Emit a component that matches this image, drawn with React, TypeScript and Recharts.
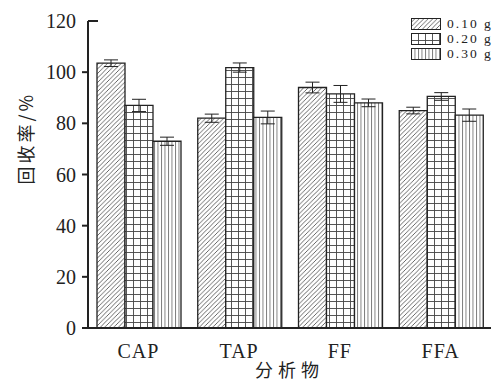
import { BarChart, Bar, XAxis, YAxis, ErrorBar, Label } from 'recharts';

const analytes = ['CAP', 'TAP', 'FF', 'FFA'];
const masses = ['0.10 g', '0.20 g', '0.30 g'];
const recovery010 = [103.5, 82, 94, 85];
const recovery020 = [87, 101.8, 91.5, 90.5];
const recovery030 = [73, 82.3, 88, 83.2];
const err010 = [1.3, 1.6, 2.1, 1.3];
const err020 = [2.4, 1.8, 3.3, 1.5];
const err030 = [1.6, 2.5, 1.5, 2.4];
const yTicks = [0, 20, 40, 60, 80, 100, 120];

const patternIds = ['hatchDiag', 'hatchGrid', 'hatchVert'];

const data = analytes.map((name, i) => ({
  name,
  s1: recovery010[i],
  s2: recovery020[i],
  s3: recovery030[i],
  e1: err010[i],
  e2: err020[i],
  e3: err030[i],
}));

const serif = '"Liberation Serif", "DejaVu Serif", serif';
const cjk = '"Noto Sans CJK SC", sans-serif';

function YTick(props: any) {
  const { x, y, payload } = props;
  const axisX = x + 9;
  return (
    <g>
      {payload.value === 120 ? (
        <line x1={axisX} x2={axisX + 10} y1={y} y2={y} stroke="#222" strokeWidth={2} />
      ) : (
        <line x1={axisX - 6} x2={axisX} y1={y} y2={y} stroke="#222" strokeWidth={2} />
      )}
      <text x={x - 3} y={y} dy={7} textAnchor="end" fontFamily={serif} fontSize={20} fill="#222">
        {payload.value}
      </text>
    </g>
  );
}

function RightEnd(props: any) {
  const { x, y, payload } = props;
  if (payload.value !== 0) return null;
  return <line x1={x - 1} x2={x - 1} y1={y + 1} y2={y - 13} stroke="#222" strokeWidth={2} />;
}

function LegendBox() {
  return (
    <div
      style={{
        position: 'absolute',
        left: 411,
        top: 16,
        fontFamily: serif,
        fontSize: 13.5,
        color: '#222',
      }}
    >
      {masses.map((m, i) => (
        <div key={m} style={{ display: 'flex', alignItems: 'center', height: 15, whiteSpace: 'nowrap' }}>
          <svg width={30} height={12} style={{ marginRight: 6, display: 'block' }}>
            <rect x={0.5} y={0.5} width={29} height={11} fill={`url(#${patternIds[i]})`} stroke="#222" strokeWidth={1} />
          </svg>
          <span style={{ lineHeight: '15px', letterSpacing: 2 }}>{m}</span>
        </div>
      ))}
    </div>
  );
}

export default function App() {
  return (
    <div style={{ position: 'absolute', left: 0, top: 0, width: 500, height: 390, overflow: 'hidden', background: '#fff' }}>
      <BarChart
        width={500}
        height={390}
        data={data}
        margin={{ top: 21, right: 9, bottom: 32, left: 40 }}
        barCategoryGap={9}
        barGap={0}
      >
        <defs>
          <pattern id="hatchDiag" patternUnits="userSpaceOnUse" width={4.5} height={4.5}>
            <rect width={4.5} height={4.5} fill="#fff" />
            <path d="M-1,1 l2,-2 M0,4.5 l4.5,-4.5 M3.5,5.5 l2,-2" stroke="#444" strokeWidth={0.8} />
          </pattern>
          <pattern id="hatchGrid" patternUnits="userSpaceOnUse" width={7} height={7}>
            <rect width={7} height={7} fill="#fff" />
            <path d="M0,0.5 H7 M0.5,0 V7" stroke="#444" strokeWidth={0.9} />
          </pattern>
          <pattern id="hatchVert" patternUnits="userSpaceOnUse" width={3.5} height={10}>
            <rect width={3.5} height={10} fill="#fff" />
            <path d="M0.5,0 V10" stroke="#555" strokeWidth={0.8} />
          </pattern>
        </defs>
        <XAxis
          dataKey="name"
          axisLine={{ stroke: '#222', strokeWidth: 2 }}
          tickLine={false}
          tickMargin={10}
          height={30}
          tick={{ fontFamily: serif, fontSize: 20, fill: '#222', letterSpacing: 1 }}
        >
          <Label value="分析物" position="bottom" offset={6} style={{ fontFamily: cjk, fontSize: 18, fill: '#222', letterSpacing: 5 }} />
        </XAxis>
        <YAxis
          yAxisId="l"
          domain={[0, 120]}
          ticks={yTicks}
          width={48}
          tickSize={6}
          tickMargin={3}
          tickLine={false}
          axisLine={{ stroke: '#222', strokeWidth: 2 }}
          tick={<YTick />}
        >
          <Label
            value="回收率/%"
            angle={-90}
            position="insideLeft"
            offset={-13}
            dy={10}
            style={{ fontFamily: cjk, fontSize: 18, fill: '#222', letterSpacing: 3 }}
          />
        </YAxis>
        <YAxis
          yAxisId="r"
          orientation="right"
          domain={[0, 120]}
          ticks={[0]}
          width={0}
          tickSize={0}
          tickMargin={0}
          tickLine={false}
          axisLine={false}
          tick={<RightEnd />}
        />
        <Bar yAxisId="l" dataKey="s1" name={masses[0]} fill="url(#hatchDiag)" stroke="#222" strokeWidth={1.3} isAnimationActive={false}>
          <ErrorBar dataKey="e1" width={7} stroke="#222" strokeWidth={1} />
        </Bar>
        <Bar yAxisId="l" dataKey="s2" name={masses[1]} fill="url(#hatchGrid)" stroke="#222" strokeWidth={1.3} isAnimationActive={false}>
          <ErrorBar dataKey="e2" width={7} stroke="#222" strokeWidth={1} />
        </Bar>
        <Bar yAxisId="l" dataKey="s3" name={masses[2]} fill="url(#hatchVert)" stroke="#222" strokeWidth={1.3} isAnimationActive={false}>
          <ErrorBar dataKey="e3" width={7} stroke="#222" strokeWidth={1} />
        </Bar>
      </BarChart>
      <LegendBox />
    </div>
  );
}
